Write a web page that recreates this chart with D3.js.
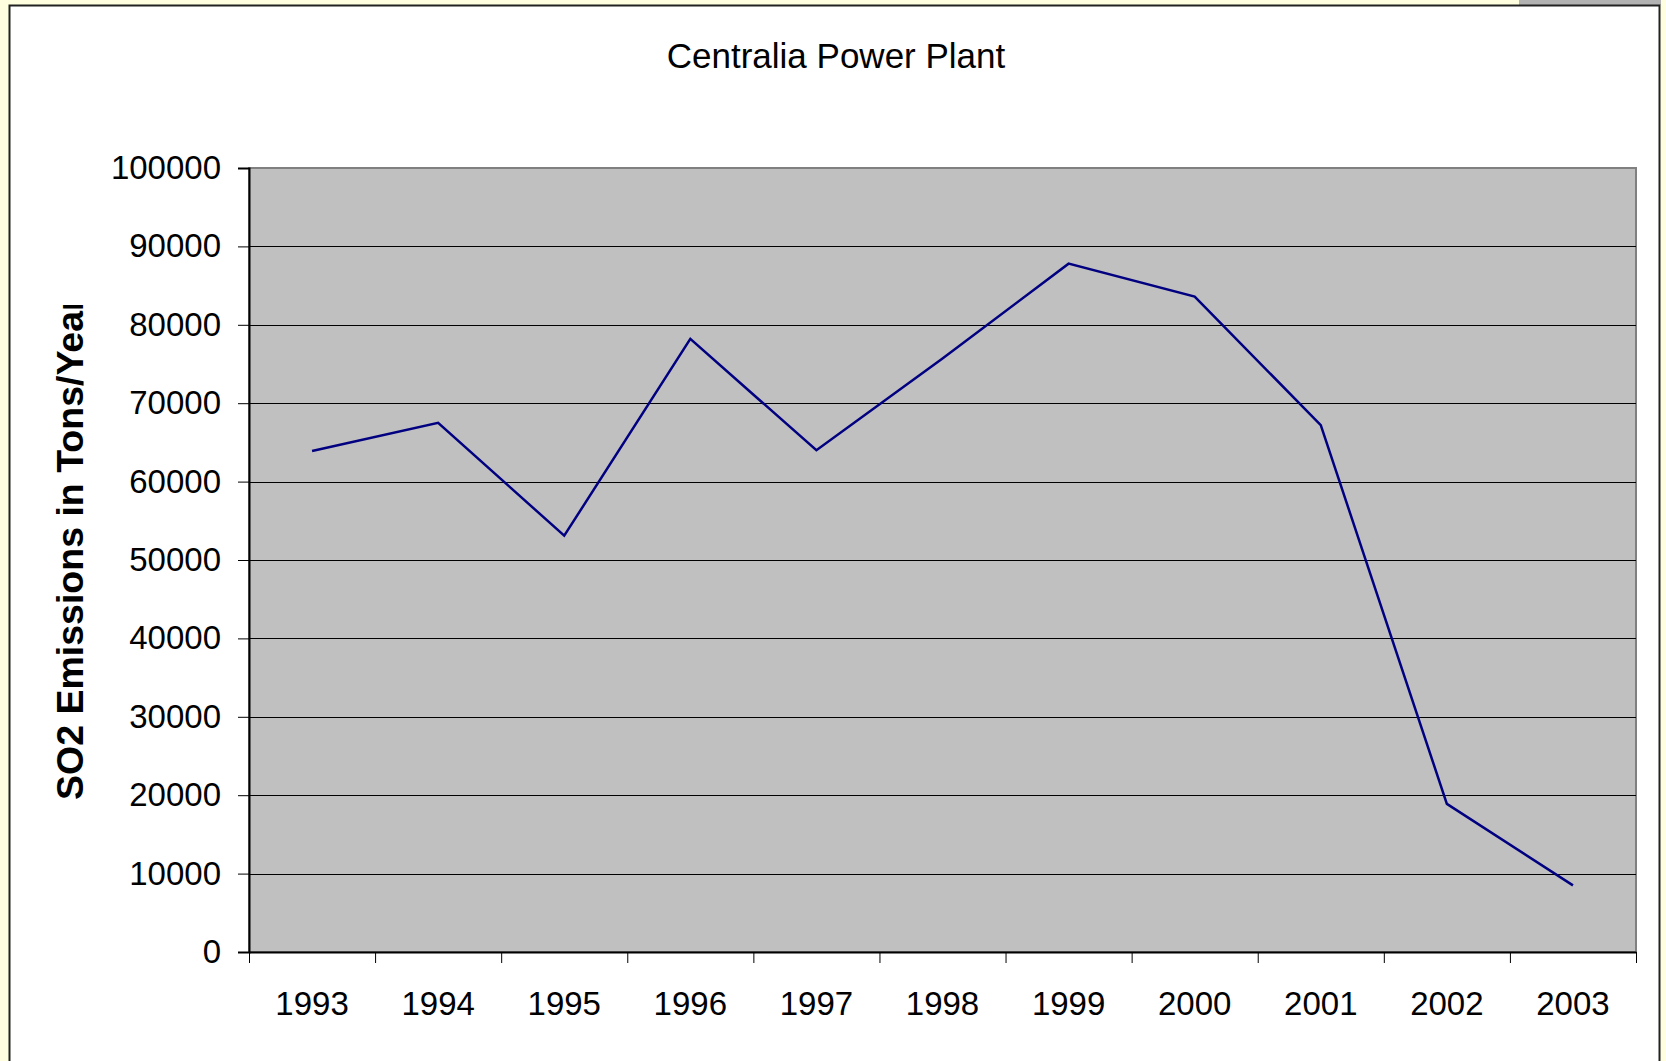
<!DOCTYPE html>
<html>
<head>
<meta charset="utf-8">
<script src="https://cdn.jsdelivr.net/npm/d3@7"></script>
<style>
  html, body { margin: 0; padding: 0; background: #FFFFE0; }
  svg { display: block; }
  text { font-family: "Liberation Sans", Arial, sans-serif; fill: #000; }
</style>
</head>
<body>
<svg id="chart" width="1666" height="1061"></svg>
<script>
// chart data
const years = ['1993','1994','1995','1996','1997','1998','1999','2000','2001','2002','2003'];
const so2Tons = [63900, 67500, 53100, 78200, 64000, 75700, 87800, 83600, 67200, 18900, 8500];
const yTicks = [0,10000,20000,30000,40000,50000,60000,70000,80000,90000,100000];
const chartTitle = 'Centralia Power Plant';
const yTitle = 'SO2 Emissions in Tons/Year';

const svg = d3.select('#chart');

// page background + chart area frame
svg.append('rect').attr('width', 1666).attr('height', 1061).attr('fill', '#FFFFE0');
svg.append('rect').attr('x', 1519).attr('y', 0).attr('width', 142).attr('height', 5).attr('fill', '#B2B2B2');
svg.append('rect')
  .attr('x', 9.5).attr('y', 5.5).attr('width', 1650).attr('height', 1080)
  .attr('fill', '#fff').attr('stroke', '#222').attr('stroke-width', 2);

const plot = { left: 249, right: 1636, top: 168, bottom: 952 };

const y = d3.scaleLinear().domain([0, 100000]).range([plot.bottom, plot.top]);
const xBand = d3.scaleBand().domain(years).range([plot.left, plot.right]).padding(0);
const xEdge = d3.scaleLinear().domain([0, years.length]).range([plot.left, plot.right]);

// plot area
svg.append('rect')
  .attr('x', plot.left).attr('y', plot.top)
  .attr('width', plot.right - plot.left).attr('height', plot.bottom - plot.top)
  .attr('fill', '#C0C0C0').attr('stroke', '#808080').attr('stroke-width', 2);

// gridlines
svg.append('g')
  .selectAll('line')
  .data(yTicks.filter(d => d > 0 && d < 100000))
  .enter().append('line')
    .attr('x1', plot.left).attr('x2', plot.right)
    .attr('y1', d => Math.round(y(d)) + 0.5).attr('y2', d => Math.round(y(d)) + 0.5)
    .attr('stroke', '#000').attr('stroke-width', 1);

// y axis
const yAxis = svg.append('g')
  .attr('transform', `translate(${plot.left},0)`)
  .call(d3.axisLeft(y).tickValues(yTicks).tickSize(11).tickPadding(17).tickFormat(d => d));
yAxis.select('.domain').attr('stroke', '#000').attr('stroke-width', 2);
yAxis.selectAll('.tick line').attr('stroke', '#000');
yAxis.selectAll('text').attr('font-size', 33).attr('font-family', '"Liberation Sans", Arial, sans-serif');

// x axis: ticks at category edges, labels in the middle
const xAxis = svg.append('g')
  .attr('transform', `translate(0,${plot.bottom})`)
  .call(d3.axisBottom(xEdge).tickValues(d3.range(years.length + 1)).tickSize(11).tickSizeOuter(0).tickFormat(''));
xAxis.select('.domain').attr('stroke', '#000').attr('stroke-width', 2);
xAxis.selectAll('.tick line').attr('stroke', '#000');

const xLabels = svg.append('g')
  .attr('transform', `translate(0,${plot.bottom})`)
  .call(d3.axisBottom(xBand).tickSize(0).tickPadding(40));
xLabels.select('.domain').remove();
xLabels.selectAll('text').attr('font-size', 33).attr('font-family', '"Liberation Sans", Arial, sans-serif');

// the series
const line = d3.line()
  .x((d, i) => xBand(years[i]) + xBand.bandwidth() / 2)
  .y(d => y(d));
svg.append('path')
  .datum(so2Tons)
  .attr('d', line)
  .attr('fill', 'none')
  .attr('stroke', '#000080')
  .attr('stroke-width', 2.5)
  .attr('stroke-linejoin', 'miter');

// title
svg.append('text')
  .attr('x', 836).attr('y', 68)
  .attr('text-anchor', 'middle')
  .attr('font-size', 35)
  .text(chartTitle);

// y title, clipped at the top like the original
svg.append('clipPath').attr('id', 'ytclip')
  .append('rect').attr('x', 20).attr('y', 305).attr('width', 100).attr('height', 700);
svg.append('g')
  .attr('clip-path', 'url(#ytclip)')
  .append('text')
    .attr('transform', 'translate(83,800) rotate(-90)')
    .attr('font-size', 37.5)
    .attr('font-weight', 'bold')
    .text(yTitle);
</script>
</body>
</html>
